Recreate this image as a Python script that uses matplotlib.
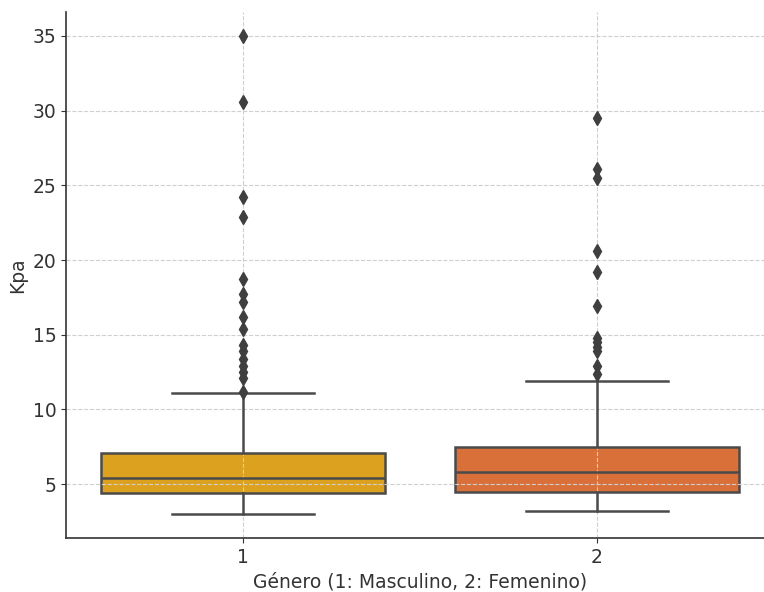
import matplotlib
matplotlib.use("Agg")
import matplotlib.pyplot as plt

# box statistics (Kpa by gender)
groups = ["1", "2"]
q1 = [4.4, 4.5]
medians = [5.4, 5.8]
q3 = [7.1, 7.5]
whisker_lo = [3.0, 3.2]
whisker_hi = [11.1, 11.9]
outliers_1 = [35.0, 30.6, 24.2, 22.9, 18.7, 17.7, 17.2, 16.2, 15.4,
              14.3, 13.9, 13.4, 12.9, 12.5, 12.1, 11.2]
outliers_2 = [29.5, 26.1, 25.5, 20.6, 19.2, 16.9, 14.8, 14.5, 14.2,
              13.9, 12.9, 12.4]
colors = ["#DCA21F", "#D9703A"]

plt.rcParams.update({"font.family": "DejaVu Sans"})

fig = plt.figure(figsize=(7.64, 5.92), dpi=100)
# the reference is a crop: axes run slightly past the right edge
ax = fig.add_axes([66 / 764, 54 / 592, 708 / 764, 526 / 592])

stats = []
for i, lab in enumerate(groups):
    stats.append(dict(label=lab, q1=q1[i], med=medians[i], q3=q3[i],
                      whislo=whisker_lo[i], whishi=whisker_hi[i],
                      fliers=[outliers_1, outliers_2][i]))

edge = "#4a4a4a"
lp = dict(color=edge, linewidth=1.8, zorder=2)
bp = ax.bxp(stats, positions=[0, 1], widths=0.8, patch_artist=True,
            boxprops=dict(edgecolor=edge, linewidth=1.8),
            medianprops=lp, whiskerprops=lp, capprops=lp,
            flierprops=dict(marker="d", markerfacecolor="#3f3f3f",
                            markeredgecolor="#3f3f3f", markersize=7, zorder=3))
for patch, c in zip(bp["boxes"], colors):
    patch.set_facecolor(c)
    patch.set_zorder(0.2)
for cap in bp["caps"]:
    x0, x1 = cap.get_xdata()
    mid = (x0 + x1) / 2
    cap.set_xdata([mid - 0.2, mid + 0.2])

ax.set_xlim(-0.5, 1.5)
ax.set_ylim(1.4, 36.6)
ax.set_yticks([5, 10, 15, 20, 25, 30, 35])
ax.set_axisbelow(True)
ax.grid(True, ls="--", color="#cfcfcf", lw=0.8)
for s in ("top", "right"):
    ax.spines[s].set_visible(False)
for s in ("left", "bottom"):
    ax.spines[s].set_color("#333333")
    ax.spines[s].set_linewidth(1.2)
ax.tick_params(colors="#333333", labelsize=13.5)
ax.set_xlabel("Género (1: Masculino, 2: Femenino)", fontsize=13.5, color="#333333")
ax.set_ylabel("Kpa", fontsize=13.5, color="#333333")

fig.savefig("out.png", dpi=100)
